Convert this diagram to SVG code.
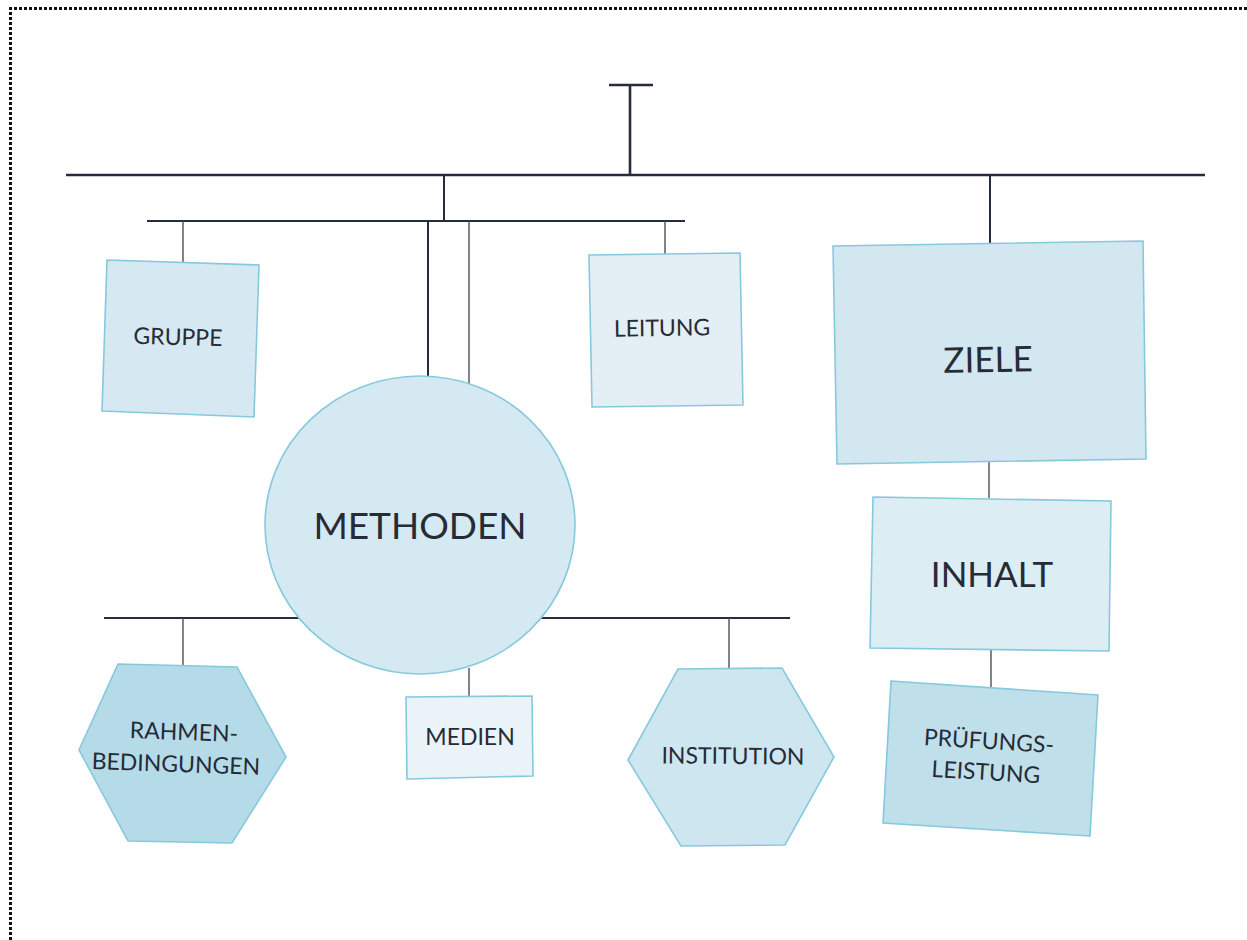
<svg xmlns="http://www.w3.org/2000/svg" width="1247" height="940" viewBox="0 0 1247 940">
<style>
.bg{fill:#ffffff}
.frame{fill:none;stroke:#111;stroke-width:3;stroke-dasharray:3 2}
.c{stroke:#262c3b;fill:none;stroke-linecap:butt}
.thick{stroke-width:2.6}
.mid{stroke-width:2}
.thin{stroke-width:1.4;stroke:#4a4f5a}
.node{stroke:#86c9dd;stroke-width:1.6}
.t{font-family:Lato,"Open Sans","Liberation Sans",sans-serif;fill:#262b36;text-anchor:middle;dominant-baseline:central}
.s{font-size:23px}
.l{font-size:35px}
</style>
<rect class="bg" x="0" y="0" width="1247" height="940"/>
<path class="frame" d="M10.5 940 V8.5 H1247"/>
<g id="connectors">
<line class="c thick" x1="609" y1="85" x2="653" y2="85"/>
<line class="c thick" x1="630" y1="85" x2="630" y2="175"/>
<line class="c thick" x1="66" y1="175" x2="1205" y2="175"/>
<line class="c mid" x1="444" y1="175" x2="444" y2="221"/>
<line class="c mid" x1="147" y1="221" x2="685" y2="221"/>
<line class="c thin" x1="183" y1="221" x2="183" y2="262"/>
<line class="c mid" x1="428" y1="221" x2="428" y2="377"/>
<line class="c thin" x1="469" y1="221" x2="469" y2="384"/>
<line class="c thin" x1="665" y1="221" x2="665" y2="254"/>
<line class="c mid" x1="990" y1="175" x2="990" y2="244"/>
<line class="c thin" x1="989" y1="461" x2="989" y2="498"/>
<line class="c thin" x1="991" y1="650" x2="991" y2="688"/>
<line class="c mid" x1="104" y1="618" x2="299" y2="618"/>
<line class="c thin" x1="183" y1="618" x2="183" y2="666"/>
<line class="c mid" x1="541" y1="618" x2="790" y2="618"/>
<line class="c thin" x1="729" y1="618" x2="729" y2="670"/>
<line class="c thin" x1="469" y1="668" x2="469" y2="697"/>
</g>
<g id="gruppe">
<polygon class="node" fill="#d6e9f2" points="107,260 259,265 254,417 102,411"/>
<text class="t s" x="178" y="336" transform="rotate(1.5 178 336)">GRUPPE</text>
</g>
<g id="leitung">
<polygon class="node" fill="#e3eff5" points="589,255 740,253 743,405 592,407"/>
<text class="t s" x="662" y="327" transform="rotate(-0.8 662 327)">LEITUNG</text>
</g>
<g id="ziele">
<polygon class="node" fill="#d2e7f0" points="833,246 1143,241 1146,459 837,464"/>
<text class="t l" x="988" y="358" transform="rotate(-1 988 358)">ZIELE</text>
</g>
<g id="inhalt">
<polygon class="node" fill="#dcedf3" points="873,497 1111,501 1109,651 870,648"/>
<text class="t l" x="992" y="573">INHALT</text>
</g>
<g id="pruefungsleistung">
<polygon class="node" fill="#bfe0ea" points="891,681 1098,695 1090,836 883,823"/>
<text class="t s" x="989" y="740" transform="rotate(3.5 989 740)">PRÜFUNGS-</text>
<text class="t s" x="986" y="771" transform="rotate(3.5 986 771)">LEISTUNG</text>
</g>
<g id="methoden">
<ellipse class="node" fill="#d4e9f1" cx="420" cy="525" rx="155" ry="149"/>
<text class="t" font-size="37" x="420" y="524">METHODEN</text>
</g>
<g id="medien">
<polygon class="node" fill="#e9f3f8" points="406,697 532,696 533,776 407,779"/>
<text class="t s" x="470" y="736">MEDIEN</text>
</g>
<g id="rahmenbedingungen">
<polygon class="node" fill="#b5dbe8" points="118,664 237,667 286,757 232,843 128,841 79,750"/>
<text class="t s" x="184" y="731" transform="rotate(2 184 731)">RAHMEN-</text>
<text class="t s" x="176" y="763" transform="rotate(2 176 763)">BEDINGUNGEN</text>
</g>
<g id="institution">
<polygon class="node" fill="#cde6ef" points="678,669 782,668 834,757 785,845 681,846 628,760"/>
<text class="t s" x="733" y="755" transform="rotate(0.5 733 755)">INSTITUTION</text>
</g>
</svg>
